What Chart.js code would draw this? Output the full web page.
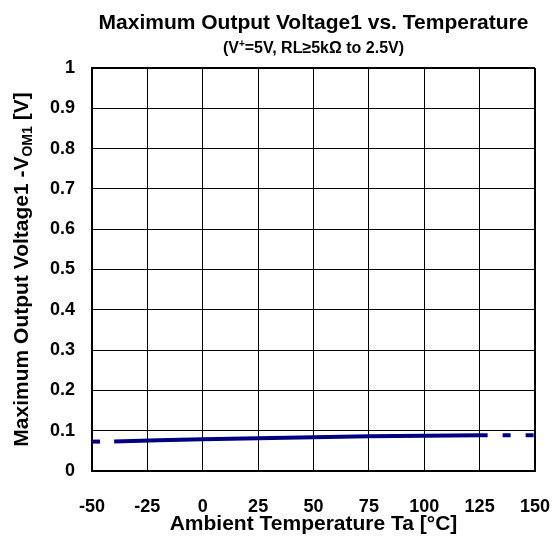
<!DOCTYPE html>
<html>
<head>
<meta charset="utf-8">
<script src="https://cdn.jsdelivr.net/npm/chart.js@4.4.1/dist/chart.umd.min.js"></script>
<style>
  html, body { margin: 0; padding: 0; background: #fff; }
</style>
</head>
<body>
<canvas id="chart" width="555" height="544"></canvas>
<script>
// measured curve (solid) plus the dashed extensions outside -40..125 °C
const temps = [-40, -20, 0, 25, 50, 75, 100, 125];
const vom1 = [0.073, 0.076, 0.079, 0.081, 0.084, 0.086, 0.0875, 0.089];
const lowTemps = [-50, -40];
const lowVom1 = [0.073, 0.073];
const highTemps = [125, 150];
const highVom1 = [0.089, 0.089];

const xTickValues = [-50, -25, 0, 25, 50, 75, 100, 125, 150];
const yTickValues = [0, 0.1, 0.2, 0.3, 0.4, 0.5, 0.6, 0.7, 0.8, 0.9, 1];

const titleText = 'Maximum Output Voltage1 vs. Temperature';
const FONT = '"Liberation Sans", Arial, sans-serif';
const NAVY = '#000080';

function pts(xs, ys) {
  return xs.map((x, i) => ({ x: x, y: ys[i] }));
}

// draw a run of [text, size, dy] pieces centred on cx
function drawRun(ctx, parts, cx, y) {
  let w = 0;
  parts.forEach(p => { ctx.font = 'bold ' + p[1] + 'px ' + FONT; w += ctx.measureText(p[0]).width; });
  let x = cx - w / 2;
  parts.forEach(p => {
    ctx.font = 'bold ' + p[1] + 'px ' + FONT;
    ctx.fillText(p[0], x, y + p[2]);
    x += ctx.measureText(p[0]).width;
  });
}

// title, subtitle (superscript) and rotated y title (subscript)
const extraText = {
  id: 'extraText',
  afterDraw(chart) {
    const ctx = chart.ctx;
    const area = chart.chartArea;
    const cx = (area.left + area.right) / 2;
    ctx.save();
    ctx.fillStyle = '#000';
    ctx.textAlign = 'left';
    ctx.textBaseline = 'alphabetic';

    drawRun(ctx, [[titleText, 21, 0]], cx, 29);
    drawRun(ctx, [['(V', 16, 0], ['+', 10, -6], ['=5V, RL\u22655k\u03a9 to 2.5V)', 16, 0]], cx, 53);

    ctx.translate(28, (area.top + area.bottom) / 2);
    ctx.rotate(-Math.PI / 2);
    drawRun(ctx, [['Maximum Output Voltage1 -V', 21, 0], ['OM1', 14, 4], [' [V]', 21, 0]], 0, 0);
    ctx.restore();
  }
};

new Chart(document.getElementById('chart'), {
  type: 'line',
  data: {
    datasets: [
      {
        data: pts(lowTemps, lowVom1),
        borderColor: NAVY,
        borderWidth: 4,
        borderDash: [8, 15],
        pointRadius: 0,
        fill: false
      },
      {
        data: pts(temps, vom1),
        borderColor: NAVY,
        borderWidth: 4,
        pointRadius: 0,
        fill: false,
        tension: 0
      },
      {
        data: pts(highTemps, highVom1),
        borderColor: NAVY,
        borderWidth: 4,
        borderDash: [8, 15],
        pointRadius: 0,
        fill: false
      }
    ]
  },
  options: {
    responsive: false,
    animation: false,
    layout: { padding: { left: 0, right: 20, top: 68, bottom: 0 } },
    plugins: {
      legend: { display: false },
      tooltip: { enabled: false },
      title: { display: false }
    },
    scales: {
      x: {
        type: 'linear',
        min: -50,
        max: 150,
        afterBuildTicks: s => { s.ticks = xTickValues.map(v => ({ value: v })); },
        afterFit: s => { s.height = 73; s.paddingLeft = 0; s.paddingRight = 0; },
        grid: {
          color: '#000',
          lineWidth: c => (c.tick && c.tick.value === 150 ? 2 : 1),
          drawTicks: false
        },
        border: { color: '#000', width: 2 },
        ticks: {
          color: '#000',
          padding: 25,
          font: { family: FONT, size: 18, weight: 'bold' }
        },
        title: {
          display: true,
          text: 'Ambient Temperature Ta [\u00b0C]',
          color: '#000',
          font: { family: FONT, size: 21, weight: 'bold' },
          padding: { top: 0, bottom: 7 }
        }
      },
      y: {
        min: 0,
        max: 1,
        afterBuildTicks: s => { s.ticks = yTickValues.map(v => ({ value: v })); },
        afterFit: s => { s.width = 92; },
        grid: {
          color: '#000',
          lineWidth: c => (c.tick && c.tick.value === 1 ? 2 : 1),
          drawTicks: false
        },
        border: { color: '#000', width: 2 },
        ticks: {
          color: '#000',
          padding: 17,
          font: { family: FONT, size: 18, weight: 'bold' },
          callback: v => String(+v.toFixed(1))
        }
      }
    }
  },
  plugins: [extraText]
});
</script>
</body>
</html>
